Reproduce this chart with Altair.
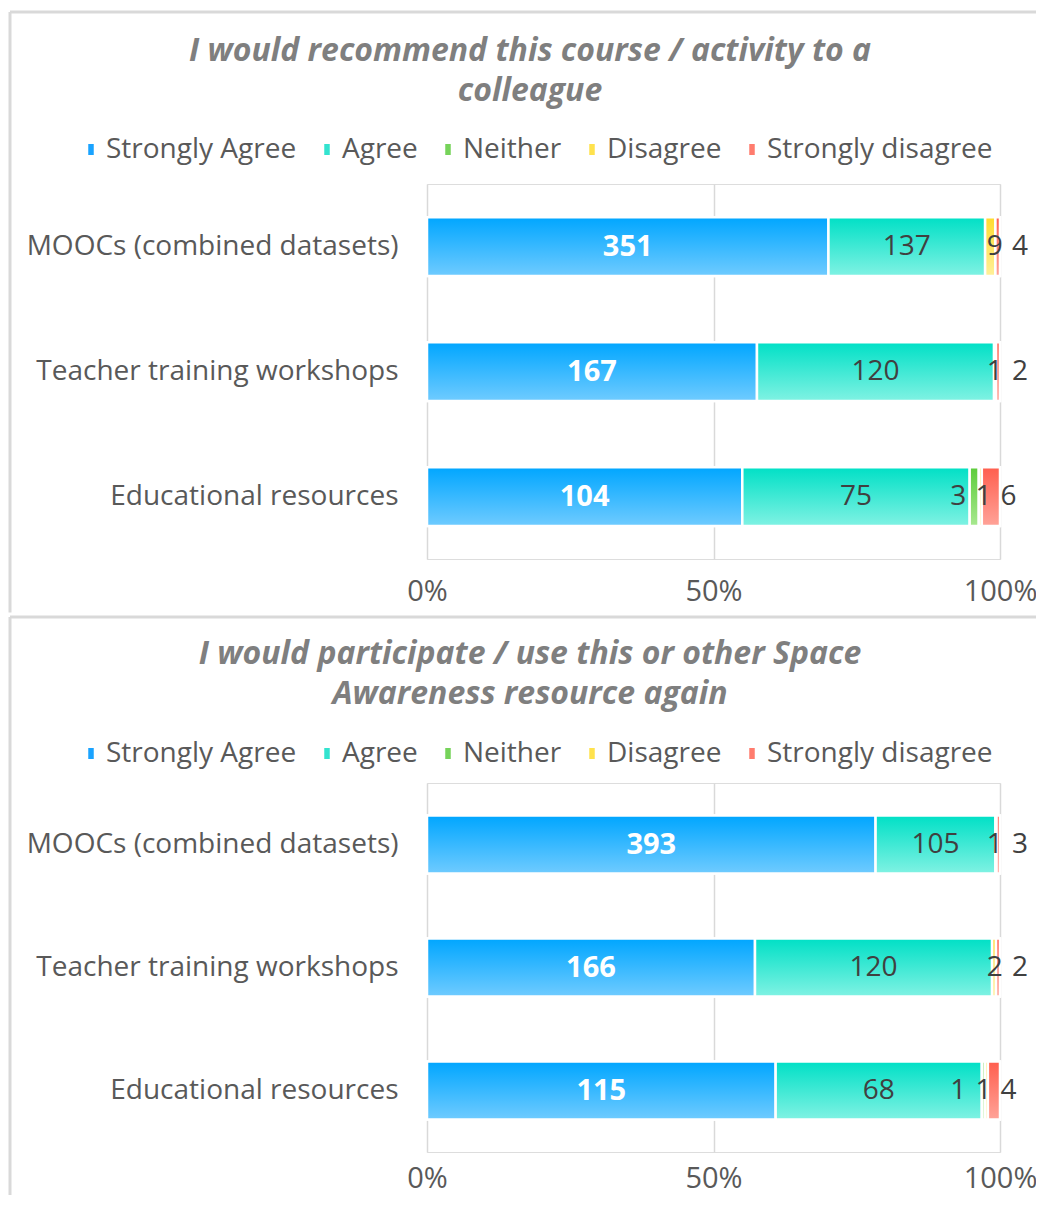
import altair as alt
import pandas as pd

categories = ["MOOCs (combined datasets)", "Teacher training workshops", "Educational resources"]
responses = ["Strongly Agree", "Agree", "Neither", "Disagree", "Strongly disagree"]

title_1 = ["I would recommend this course / activity to a", "colleague"]
title_2 = ["I would participate / use this or other Space", "Awareness resource again"]

q1_strongly_agree = [351, 167, 104]
q1_agree = [137, 120, 75]
q1_neither = [0, 0, 3]
q1_disagree = [9, 1, 1]
q1_strongly_disagree = [4, 2, 6]

q2_strongly_agree = [393, 166, 115]
q2_agree = [105, 120, 68]
q2_neither = [0, 0, 1]
q2_disagree = [1, 2, 1]
q2_strongly_disagree = [3, 2, 4]

x_ticks = [0, 0.5, 1]

legend_colors = ["#1aa3ff", "#33e3cf", "#76d35a", "#ffe24d", "#ff7c6e"]
gradient_tops = ["#00a6ff", "#00e0c6", "#5ccc3a", "#ffdb2e", "#ff5e4e"]
gradient_bottoms = ["#6fcbff", "#80f2e3", "#a8e890", "#fff09a", "#ffa398"]

FONT = "Open Sans"
LABEL_GRAY = "#595959"
DATA_GRAY = "#404040"
BORDER = "#d9d9d9"


def make_df(series):
    rows = []
    for oi, (resp, vals) in enumerate(zip(responses, series)):
        for cat, v in zip(categories, vals):
            rows.append({"category": cat, "response": resp, "count": v, "order": oi})
    return pd.DataFrame(rows)


def panel(series, title_lines, top_gap, legend_y, bottom_extent, title_offset,
          plot_height, x_label_pad):
    df = make_df(series)
    base = (
        alt.Chart(df)
        .transform_filter("datum.count > 0")
        .transform_stack(
            stack="count",
            groupby=["category"],
            sort=[alt.SortField("order", order="ascending")],
            as_=["x0", "x1"],
            offset="normalize",
        )
        .transform_calculate(mid="(datum.x0 + datum.x1) / 2")
    )

    xscale = alt.Scale(domain=[0, 1], nice=False, zero=True)
    yscale = alt.Scale(domain=categories, paddingInner=0.53, paddingOuter=0.265)

    x_axis = alt.Axis(
        values=x_ticks, format="%", grid=True, gridColor=BORDER, gridWidth=1.5,
        domain=False, ticks=False, tickSize=0, labelPadding=x_label_pad,
        labelFontSize=29, labelFont=FONT, labelColor=LABEL_GRAY, title=None,
        labelFlush=False,
    )
    y_axis = alt.Axis(
        domain=False, ticks=False, tickSize=0, labelPadding=29, labelFontSize=28,
        labelFont=FONT, labelColor=LABEL_GRAY, labelLimit=600, title=None, grid=False,
    )

    def xenc(field):
        return alt.X(field, scale=xscale, axis=x_axis, title=None)

    yenc = alt.Y("category:N", scale=yscale, axis=y_axis, sort=categories, title=None)

    bars = base.mark_bar(stroke="white", strokeWidth=2.5).encode(
        x=xenc("x0:Q"),
        x2="x1:Q",
        y=yenc,
        color=alt.Color(
            "response:N",
            scale=alt.Scale(domain=responses, range=legend_colors),
            legend=alt.Legend(
                orient="none", legendX=-350, legendY=legend_y, direction="horizontal",
                title=None, symbolType="M-0.5,-1H0.5V1H-0.5Z", symbolSize=121,
                symbolStrokeWidth=0, labelFontSize=28, labelFont=FONT,
                labelColor=LABEL_GRAY, columnPadding=16, labelOffset=1,
                labelLimit=400, padding=0,
            ),
        ),
    )

    layers = [bars]
    for resp, top, bottom in zip(responses, gradient_tops, gradient_bottoms):
        grad = {
            "gradient": "linear", "x1": 0, "x2": 0, "y1": 0, "y2": 1,
            "stops": [{"offset": 0, "color": top}, {"offset": 1, "color": bottom}],
        }
        layers.append(
            base.transform_filter(alt.datum.response == resp)
            .mark_bar(fill=grad, stroke="white", strokeWidth=2.5)
            .encode(x=xenc("x0:Q"), x2="x1:Q", y=yenc)
        )

    sa_text = base.transform_filter(alt.datum.response == "Strongly Agree").mark_text(
        color="white", fontWeight="bold", fontSize=29, font=FONT
    ).encode(x=xenc("mid:Q"), y=yenc, text="count:Q")
    a_text = base.transform_filter(alt.datum.response == "Agree").mark_text(
        color=DATA_GRAY, fontSize=28, font=FONT
    ).encode(x=xenc("mid:Q"), y=yenc, text="count:Q")
    small_text = (
        base.transform_filter("datum.order >= 2")
        .transform_window(k="row_number()", groupby=["category"],
                          sort=[alt.SortField("order", order="ascending")])
        .transform_joinaggregate(n="count()", groupby=["category"])
        .transform_calculate(
            lx="1.035 - (datum.n == 3 ? 0.02 : 0) - (datum.n - datum.k) * 0.044"
        )
        .mark_text(color=DATA_GRAY, fontSize=28, font=FONT)
        .encode(x=xenc("lx:Q"), y=yenc, text="count:Q")
    )
    layers += [sa_text, a_text, small_text]

    dummy = alt.Chart(pd.DataFrame({"v": [0]}))
    top_rule = dummy.mark_rule(color=BORDER, strokeWidth=3).encode(
        x=alt.value(-417), x2=alt.value(615), y=alt.value(-top_gap)
    )
    left_rule = dummy.mark_rule(color=BORDER, strokeWidth=3).encode(
        x=alt.value(-417), y=alt.value(-top_gap), y2=alt.value(bottom_extent)
    )
    layers += [top_rule, left_rule]

    return alt.layer(*layers).properties(
        width=573,
        height=plot_height,
        title=alt.TitleParams(
            text=title_lines, font=FONT, fontSize=32, fontWeight="bold",
            fontStyle="italic", color="#7f7f7f", anchor="middle", frame="bounds",
            offset=title_offset, lineHeight=40, dx=4,
        ),
    )


p1 = panel([q1_strongly_agree, q1_agree, q1_neither, q1_disagree, q1_strongly_disagree],
           title_1, 172, -48.5, 428.5, -97.5, 375, 18)
p2 = panel([q2_strongly_agree, q2_agree, q2_neither, q2_disagree, q2_strongly_disagree],
           title_2, 166, -43.5, 420, -95.5, 369, 12)

chart = (
    alt.vconcat(p1, p2, spacing=0)
    .resolve_scale(color="independent")
    .properties(padding={"left": 0, "top": 2, "right": -8, "bottom": -10})
    .configure_view(strokeWidth=0)
    .configure(background="white")
)

chart.save("out.html", embed_options={"renderer": "svg", "actions": False})
